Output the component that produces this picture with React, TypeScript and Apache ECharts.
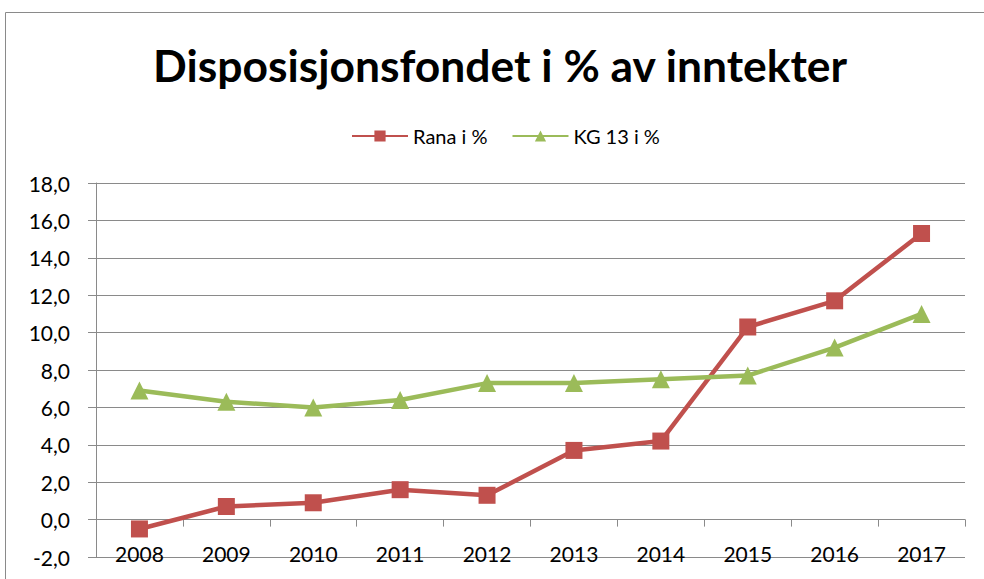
import React, { useEffect, useRef } from "react";
import * as echarts from "echarts";

const categories = ["2008", "2009", "2010", "2011", "2012", "2013", "2014", "2015", "2016", "2017"];
const ranaValues = [-0.5, 0.7, 0.9, 1.6, 1.3, 3.7, 4.2, 10.3, 11.7, 15.3];
const kgValues = [6.9, 6.3, 6.0, 6.4, 7.3, 7.3, 7.5, 7.7, 9.2, 11.0];
const seriesNames = ["Rana i %", "KG 13 i %"];
const titleText = "Disposisjonsfondet i % av inntekter";

export default function App() {
  const ref = useRef<HTMLDivElement>(null);
  useEffect(() => {
    if (!ref.current) return;
    const chart = echarts.init(ref.current, null, { renderer: "svg" });
    const font = "Lato, 'Open Sans', sans-serif";
    chart.setOption({
      animation: false,
      backgroundColor: "#ffffff",
      graphic: [
        {
          type: "rect",
          shape: { x: 5.5, y: 12.5, width: 1100, height: 700 },
          style: { fill: "none", stroke: "#8a8a8a", lineWidth: 1 },
          silent: true,
        },
      ],
      title: {
        text: titleText,
        left: 148,
        top: 37,
        textStyle: { fontFamily: font, fontWeight: "bold", fontSize: 44.4, color: "#000" },
      },
      legend: {
        top: 121,
        left: 346,
        itemWidth: 56,
        itemHeight: 14,
        itemGap: 24,
        textStyle: { fontFamily: font, fontSize: 20, color: "#000" },
        data: seriesNames,
      },
      grid: { left: 96, right: 19, top: 183, bottom: 22, containLabel: false, outerBoundsMode: "none" },
      xAxis: {
        type: "category",
        data: categories,
        boundaryGap: true,
        axisLine: { onZero: true, lineStyle: { color: "#8a8a8a", width: 1 } },
        axisTick: { show: true, length: 7, lineStyle: { color: "#8a8a8a" } },
        axisLabel: { margin: -14, fontFamily: font, fontSize: 21, color: "#000" },
      },
      yAxis: {
        type: "value",
        min: -2,
        max: 18,
        interval: 2,
        axisLine: { show: true, lineStyle: { color: "#8a8a8a", width: 1 } },
        axisTick: { show: true, length: 8, lineStyle: { color: "#8a8a8a" } },
        splitLine: { show: true, lineStyle: { color: "#8a8a8a", width: 1 } },
        axisLabel: {
          margin: 26,
          fontFamily: font,
          fontSize: 21,
          color: "#000",
          formatter: (v: number) => v.toFixed(1).replace(".", ","),
        },
      },
      series: [
        {
          name: seriesNames[0],
          type: "line",
          data: ranaValues,
          symbol: "rect",
          symbolSize: 17,
          lineStyle: { color: "#c0504d", width: 4.5 },
          itemStyle: { color: "#c0504d" },
        },
        {
          name: seriesNames[1],
          type: "line",
          data: kgValues,
          symbol: "triangle",
          symbolSize: 18,
          lineStyle: { color: "#9bbb59", width: 4.5 },
          itemStyle: { color: "#9bbb59" },
        },
      ],
    });
    return () => chart.dispose();
  }, []);
  return <div ref={ref} style={{ width: 984, height: 579, position: "absolute", left: 0, top: 0 }} />;
}
